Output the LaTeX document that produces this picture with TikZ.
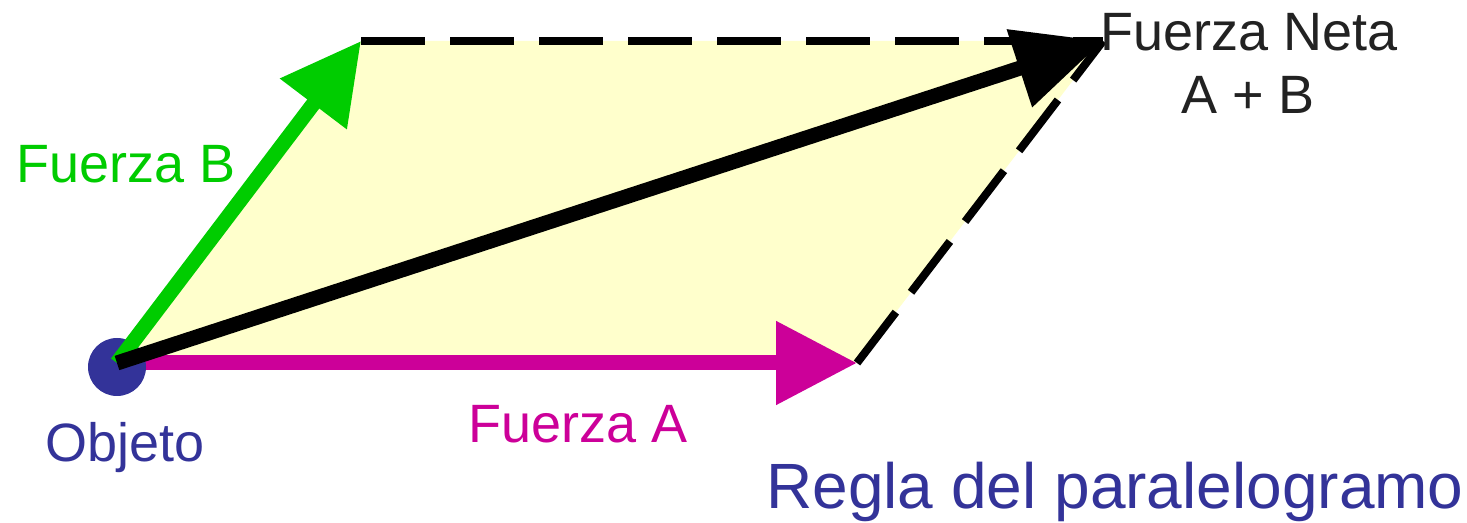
\documentclass[tikz,border=0pt]{standalone}
\usepackage{fontspec}
\setmainfont{Liberation Sans}
\usetikzlibrary{arrows.meta}
\definecolor{paryel}{HTML}{FFFFCC}
\definecolor{fgreen}{HTML}{00CC00}
\definecolor{fmag}{HTML}{CC0099}
\definecolor{fblue}{HTML}{333399}
\definecolor{ftext}{HTML}{222222}
\tikzset{
  vecline/.style={line width=7.5pt},
  dashline/.style={line width=4pt, dash pattern=on 32pt off 12.5pt, black},
  lbl/.style={inner sep=0pt, font=\fontsize{27}{32}\selectfont},
}
\begin{document}
\begin{tikzpicture}[x=0.5pt,y=-0.5pt]
\useasboundingbox (0,0) rectangle (1467,523);
\coordinate (O) at (117,363);
\coordinate (A) at (857,363);
\coordinate (B) at (361,41);
\coordinate (N) at (1103,41);
% parallelogram fill
\fill[paryel] (O) -- (A) -- (N) -- (B) -- cycle;
% dashed sides
\draw[dashline] (B) -- (N);
\draw[dashline] (A) -- (N);
% Fuerza A
\draw[vecline, fmag, -{Triangle[length=40.5pt,width=40pt]}] (O) -- (A);
% object dot
\node[circle, fill=fblue, inner sep=0pt, minimum size=29pt] (obj) at (117,367) {};
% Fuerza B
\draw[vecline, fgreen, -{Triangle[length=39.5pt,width=40pt]}] (O) -- (B);
% Fuerza neta
\draw[vecline, black, -{Triangle[length=44pt,width=39pt]}] (O) -- (N);
% labels
\node[lbl, fgreen, anchor=base west] (lb) at (16,183) {Fuerza B};
\node[lbl, fblue, anchor=base west] (lo) at (45,461) {Objeto};
\node[lbl, fmag, anchor=base west] (la) at (468,443) {Fuerza A};
\node[lbl, ftext, anchor=base] (ln) at (1249,51) {Fuerza Neta};
\node[lbl, ftext, anchor=base] (lab) at (1248,114) {A + B};
\node[inner sep=0pt, font=\fontsize{32}{38}\selectfont, fblue, anchor=base west] (lt) at (766,509) {Regla del paralelogramo};
\end{tikzpicture}
\end{document}
